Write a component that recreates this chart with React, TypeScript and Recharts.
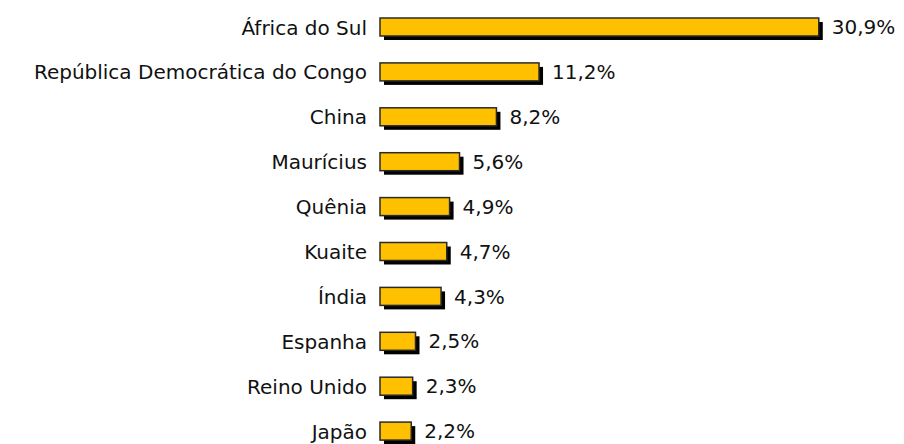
import React from 'react';
import { BarChart, Bar, XAxis, YAxis, LabelList } from 'recharts';

const countries = [
  'África do Sul',
  'República Democrática do Congo',
  'China',
  'Maurícius',
  'Quênia',
  'Kuaite',
  'Índia',
  'Espanha',
  'Reino Unido',
  'Japão',
];
const shares = [30.9, 11.2, 8.2, 5.6, 4.9, 4.7, 4.3, 2.5, 2.3, 2.2];

const data = countries.map((c, i) => ({ name: c, value: shares[i] }));

const FONT = '"DejaVu Sans", Verdana, sans-serif';

const ShadowBar = (props: any) => {
  const { x, y, width, height } = props;
  if (width <= 0) return null;
  return (
    <g>
      <rect x={x + 4} y={y + 4} width={width} height={height} fill="#000" />
      <rect x={x} y={y} width={width} height={height} fill="#FFC000" stroke="#2a2a2a" strokeWidth={1.5} />
    </g>
  );
};

export default function App() {
  return (
    <div style={{ position: 'relative', width: 896, height: 436, overflow: 'hidden' }}>
      <div style={{ position: 'absolute', top: -3.5, left: 0 }}>
        <BarChart
          width={896}
          height={449}
          data={data}
          layout="vertical"
          margin={{ top: 0, right: 27, bottom: 0, left: 0 }}
          barSize={18}
        >
          <XAxis type="number" domain={[0, 35]} hide />
          <YAxis
            type="category"
            dataKey="name"
            width={372}
            axisLine={false}
            tickLine={false}
            tickMargin={7}
            tick={{ fill: '#111', fontSize: 20, fontFamily: FONT }}
            interval={0}
          />
          <Bar dataKey="value" shape={<ShadowBar />} isAnimationActive={false}>
            <LabelList
              dataKey="value"
              position="right"
              offset={13}
              formatter={(v: any) => `${String(v).replace('.', ',')}%`}
              style={{ fill: '#111', fontSize: 20, fontFamily: FONT }}
            />
          </Bar>
        </BarChart>
      </div>
    </div>
  );
}
